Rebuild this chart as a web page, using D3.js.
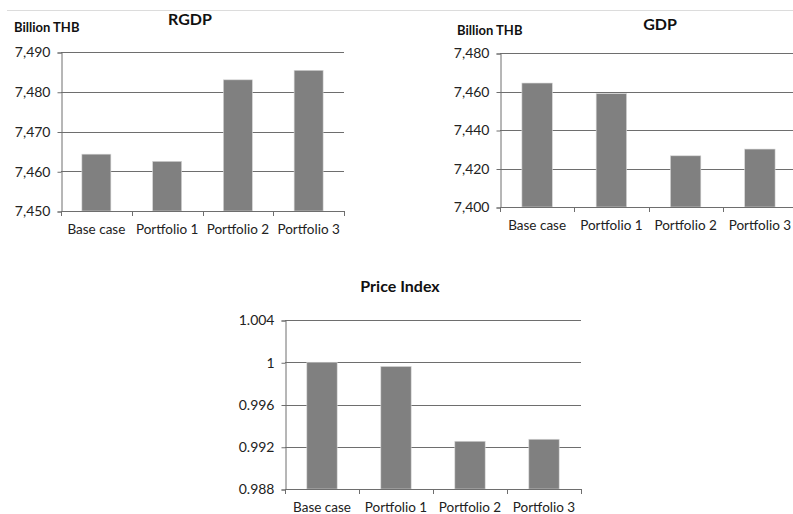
<!DOCTYPE html>
<html>
<head>
<meta charset="utf-8">
<script src="https://cdn.jsdelivr.net/npm/d3@7"></script>
<style>
  body { margin: 0; background: #fff; }
  svg { display: block; font-family: Lato, "Open Sans", sans-serif; }
  .tick text { fill: #222; }
  .title { font-size: 16px; font-weight: 700; fill: #111; }
  .unit { font-size: 13px; font-weight: 700; fill: #111; }
</style>
</head>
<body>
<div id="chart"></div>
<script>
// Categories shared by the three panels
const categories = ['Base case', 'Portfolio 1', 'Portfolio 2', 'Portfolio 3'];

// Values
const rgdpValues = [7464.3, 7462.5, 7483.0, 7485.4];
const gdpValues = [7464.4, 7458.9, 7426.6, 7430.1];
const priceValues = [1.0000, 0.9996, 0.99252, 0.99271];

// Tick labels on the y axes
const rgdpTicks = [7450, 7460, 7470, 7480, 7490];
const gdpTicks = [7400, 7420, 7440, 7460, 7480];
const priceTicks = [0.988, 0.992, 0.996, 1.0, 1.004];

const svg = d3.select('#chart')
    .append('svg')
    .attr('width', 793)
    .attr('height', 514);

// thin separator line at the top
svg.append('line')
    .attr('x1', 7).attr('x2', 793)
    .attr('y1', 10.5).attr('y2', 10.5)
    .attr('stroke', '#dcdcdc');

function drawPanel(opt) {
    const x = d3.scaleBand()
        .domain(categories)
        .range([opt.left, opt.right])
        .paddingInner(0.59)
        .paddingOuter(0.295);

    const y = d3.scaleLinear()
        .domain([opt.ticks[0], opt.ticks[opt.ticks.length - 1]])
        .range([opt.bottom, opt.top]);

    const g = svg.append('g');

    // gridlines
    g.selectAll('.grid')
        .data(opt.ticks.slice(1))
        .enter()
        .append('line')
        .attr('x1', opt.left)
        .attr('x2', opt.right)
        .attr('y1', d => Math.round(y(d)) + 0.5)
        .attr('y2', d => Math.round(y(d)) + 0.5)
        .attr('stroke', '#6e6e6e')
        .attr('stroke-width', 1);

    // bars
    g.selectAll('.bar')
        .data(opt.values)
        .enter()
        .append('rect')
        .attr('x', (d, i) => x(categories[i]))
        .attr('width', x.bandwidth())
        .attr('y', d => y(d))
        .attr('height', d => opt.bottom - y(d))
        .attr('fill', '#808080')
        .attr('stroke', '#d8d8d8')
        .attr('stroke-width', 0.6);

    // y axis
    const yAxis = d3.axisLeft(y)
        .tickValues(opt.ticks)
        .tickFormat(opt.format)
        .tickSize(4)
        .tickPadding(7);
    const ya = g.append('g')
        .attr('transform', `translate(${opt.left + 0.5},0.5)`)
        .call(yAxis);
    ya.attr('font-family', null);
    ya.select('.domain').attr('stroke', '#6e6e6e');
    ya.selectAll('.tick line').attr('stroke', '#6e6e6e');
    ya.selectAll('.tick text').attr('font-size', 14);

    // x axis: labels centred on bands, tick marks at band edges
    const xAxis = d3.axisBottom(x).tickSize(0).tickPadding(13);
    const xa = g.append('g')
        .attr('transform', `translate(0,${Math.round(opt.bottom) + 0.5})`)
        .call(xAxis);
    xa.attr('font-family', null);
    xa.select('.domain').remove();
    xa.selectAll('.tick text').attr('font-size', 13.5);

    g.append('line')
        .attr('x1', opt.left).attr('x2', opt.right)
        .attr('y1', Math.round(opt.bottom) + 0.5)
        .attr('y2', Math.round(opt.bottom) + 0.5)
        .attr('stroke', '#6e6e6e');

    const edges = d3.range(categories.length + 1)
        .map(i => opt.left + i * x.step());
    g.selectAll('.xtick')
        .data(edges)
        .enter()
        .append('line')
        .attr('x1', d => Math.round(d) + 0.5)
        .attr('x2', d => Math.round(d) + 0.5)
        .attr('y1', Math.round(opt.bottom))
        .attr('y2', Math.round(opt.bottom) + 5)
        .attr('stroke', '#6e6e6e');

    // title and unit label
    g.append('text')
        .attr('class', 'title')
        .attr('x', opt.titleX)
        .attr('y', opt.titleY)
        .attr('text-anchor', 'middle')
        .text(opt.title);

    if (opt.unit) {
        g.append('text')
            .attr('class', 'unit')
            .attr('x', opt.unitX)
            .attr('y', opt.unitY)
            .text(opt.unit);
    }
}

const fmtThousands = d3.format(',');
const fmtPrice = d => (d === 1 ? '1' : d3.format('.3f')(d));

drawPanel({
    values: rgdpValues, ticks: rgdpTicks, format: fmtThousands,
    left: 61, right: 344, top: 52, bottom: 211,
    title: 'RGDP', titleX: 190, titleY: 25,
    unit: 'Billion THB', unitX: 14, unitY: 32
});

drawPanel({
    values: gdpValues, ticks: gdpTicks, format: fmtThousands,
    left: 500, right: 797, top: 53, bottom: 207,
    title: 'GDP', titleX: 660, titleY: 30,
    unit: 'Billion THB', unitX: 457, unitY: 35
});

drawPanel({
    values: priceValues, ticks: priceTicks, format: fmtPrice,
    left: 285, right: 581, top: 320, bottom: 489,
    title: 'Price Index', titleX: 400, titleY: 292
});
</script>
</body>
</html>
